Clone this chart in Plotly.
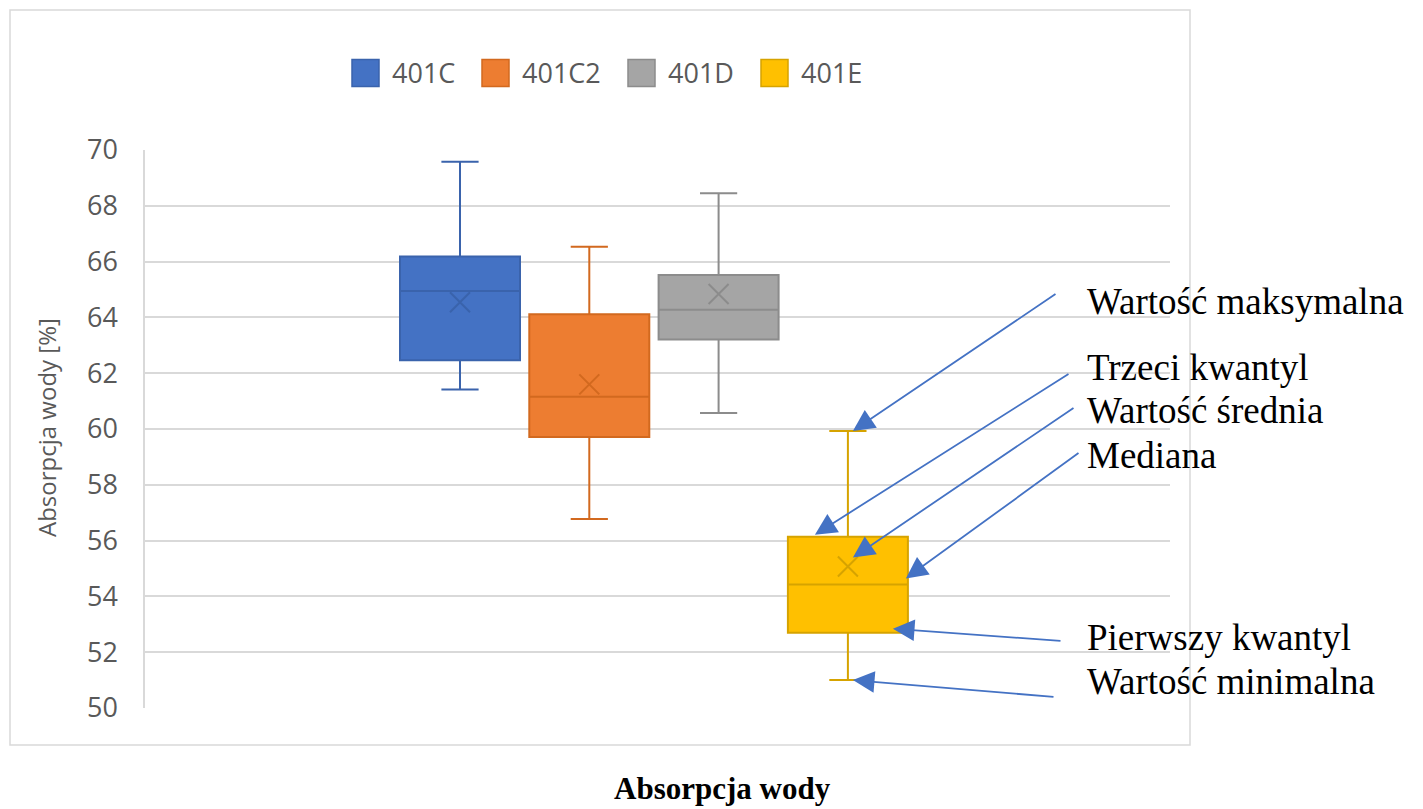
import plotly.graph_objects as go

# ---- data: water absorption statistics per sample ----
series = ["401C", "401C2", "401D", "401E"]
minimum = [61.42, 56.77, 60.57, 51.00]
q1 = [62.46, 59.71, 63.21, 52.70]
median = [64.95, 61.16, 64.27, 54.43]
q3 = [66.18, 64.11, 65.52, 56.14]
maximum = [69.58, 66.53, 68.45, 59.93]
mean = [64.54, 61.60, 64.84, 55.07]

y_ticks = [50, 52, 54, 56, 58, 60, 62, 64, 66, 68, 70]

fill_colors = ["#4472C4", "#ED7D31", "#A5A5A5", "#FFC000"]
line_colors = ["#3A63AC", "#D2691F", "#8C8C8C", "#D6A300"]

# explanation labels for the parts of a box (pointing at the last box)
legend_parts = ["Wartość maksymalna", "Trzeci kwantyl", "Wartość średnia",
                "Mediana", "Pierwszy kwantyl", "Wartość minimalna"]

# ---- layout geometry (pixels) ----
W, H = 1423, 809
PLOT_L, PLOT_R, PLOT_T, PLOT_B = 145, 1170, 150, 708
FIRST_CENTER = 460
SLOT = 129.3
BOX_W = 120

def paper_x(px):
    return (px - PLOT_L) / (PLOT_R - PLOT_L)

def paper_y(py):
    return (PLOT_B - py) / (PLOT_B - PLOT_T)

x_lo = -(FIRST_CENTER - PLOT_L) / SLOT
x_hi = (PLOT_R - FIRST_CENTER) / SLOT
y_lo, y_hi = y_ticks[0], y_ticks[-1]

def data_x(px):
    return x_lo + (px - PLOT_L) / SLOT

def data_y(py):
    return y_hi - (py - PLOT_T) * (y_hi - y_lo) / (PLOT_B - PLOT_T)

px_per_unit_y = (PLOT_B - PLOT_T) / (y_hi - y_lo)

fig = go.Figure()

for i, name in enumerate(series):
    fig.add_trace(go.Box(
        name=name,
        x=[i],
        q1=[q1[i]], median=[median[i]], q3=[q3[i]],
        lowerfence=[minimum[i]], upperfence=[maximum[i]],
        boxpoints=False,
        width=BOX_W / SLOT,
        whiskerwidth=0.31,
        fillcolor=fill_colors[i],
        line=dict(color=line_colors[i], width=2),
        showlegend=False,
    ))
    fig.add_trace(go.Scatter(
        x=[i], y=[mean[i]], mode="markers",
        marker=dict(symbol="x-thin-open", size=20,
                    line=dict(color=line_colors[i], width=2),
                    color=line_colors[i]),
        showlegend=False, hoverinfo="y",
    ))

shapes = []
annotations = []

# chart frame
shapes.append(dict(type="rect", xref="paper", yref="paper",
                   x0=paper_x(10), x1=paper_x(1190),
                   y0=paper_y(745), y1=paper_y(10),
                   line=dict(color="#D9D9D9", width=1.5),
                   fillcolor="rgba(0,0,0,0)", layer="below"))

# legend drawn at the top of the frame
LEGEND_X = [352, 482, 628, 761]
SW = 27
LEG_CY = 73
for i, name in enumerate(series):
    x0 = LEGEND_X[i]
    shapes.append(dict(type="rect", xref="paper", yref="paper",
                       x0=paper_x(x0), x1=paper_x(x0 + SW),
                       y0=paper_y(LEG_CY + SW / 2), y1=paper_y(LEG_CY - SW / 2),
                       fillcolor=fill_colors[i],
                       line=dict(color=line_colors[i], width=1.5)))
    annotations.append(dict(xref="paper", yref="paper",
                            x=paper_x(x0 + SW + 11), y=paper_y(LEG_CY),
                            xanchor="left", yanchor="middle",
                            text=name, showarrow=False,
                            font=dict(family="Open Sans", size=27, color="#595959")))

# y axis title
annotations.append(dict(xref="paper", yref="paper",
                        x=paper_x(46), y=paper_y(428),
                        xanchor="center", yanchor="middle",
                        text="Absorpcja wody [%]", textangle=-90, showarrow=False,
                        font=dict(family="Open Sans", size=24, color="#595959")))

# bottom title
annotations.append(dict(xref="paper", yref="paper",
                        x=paper_x(722), y=paper_y(788),
                        xanchor="center", yanchor="middle",
                        text="<b>Absorpcja wody</b>", showarrow=False,
                        font=dict(family="Liberation Serif", size=31, color="#000000")))

# arrows describing the parts of the last box
k = len(series) - 1
part_values = [maximum[k], q3[k], mean[k], median[k], q1[k], minimum[k]]
# arrowhead offsets from the described point (px) and arrow tails (px)
tip_offsets = [(5, 0), (-33, -2), (5, -9), (58, -6), (45, -4), (5, 0)]
tails = [(1057, 293), (1070, 373), (1075, 407), (1080, 452), (1062, 641), (1055, 697)]
label_y = [301, 367, 410, 455, 637, 681]
for j, text in enumerate(legend_parts):
    dx, dy = tip_offsets[j]
    annotations.append(dict(
        xref="x", yref="y", axref="x", ayref="y",
        x=k + dx / SLOT, y=part_values[j] - dy / px_per_unit_y,
        ax=data_x(tails[j][0]), ay=data_y(tails[j][1]),
        text="", showarrow=True, arrowhead=2, arrowsize=2.4,
        arrowwidth=1.8, arrowcolor="#4472C4", standoff=0,
    ))
    annotations.append(dict(
        xref="paper", yref="paper",
        x=paper_x(1085), y=paper_y(label_y[j]),
        xanchor="left", yanchor="middle",
        text=text, showarrow=False,
        font=dict(family="Liberation Serif", size=37, color="#000000"),
    ))

fig.update_layout(
    width=W, height=H,
    margin=dict(l=PLOT_L, r=W - PLOT_R, t=PLOT_T, b=H - PLOT_B, pad=0),
    paper_bgcolor="white", plot_bgcolor="white",
    boxmode="overlay",
    showlegend=False,
    shapes=shapes,
    annotations=annotations,
    xaxis=dict(range=[x_lo, x_hi], showticklabels=False, showgrid=False,
               zeroline=False, showline=False, ticks=""),
    yaxis=dict(range=[y_lo, y_hi], tickvals=y_ticks,
               ticktext=[str(v) for v in y_ticks],
               showgrid=True, gridcolor="#D9D9D9", gridwidth=1.5,
               zeroline=False, showline=True, linecolor="#D9D9D9", linewidth=1.5,
               ticks="", ticklabelstandoff=20,
               tickfont=dict(family="Open Sans", size=27, color="#595959")),
)

fig.write_html("out.html")
